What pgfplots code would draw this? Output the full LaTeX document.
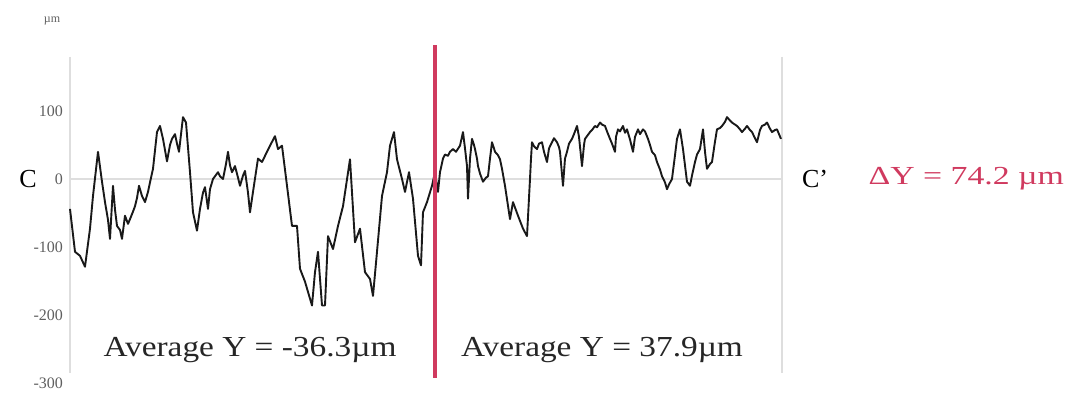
\documentclass[border=0pt]{standalone}
\usepackage{fontspec}
\setmainfont{Liberation Serif}
\usepackage{pgfplots}
\pgfplotsset{compat=1.18}

\definecolor{redline}{RGB}{208,58,95}
\definecolor{axisgray}{RGB}{222,222,222}
\definecolor{ticktext}{RGB}{95,95,95}

% profile C-C' (x in image columns, y in micrometres)
\pgfplotstableread{
x y
70 -44
75 -107
80 -113
85 -129
90 -73
93 -25
98 40
102 -4
105 -34
108 -60
110 -88
113 -10
115 -45
117 -69
120 -75
122 -88
125 -54
128 -66
130 -59
133 -48
135 -40
137 -28
139 -10
142 -25
145 -34
148 -19
150 -5
153 15
157 69
160 78
163 59
167 26
170 50
172 59
175 66
177 52
179 40
183 91
186 83
190 10
193 -49
197 -76
200 -44
203 -20
205 -12
208 -44
210 -15
213 0
216 6
218 10
220 4
223 0
226 22
228 40
230 20
232 10
235 19
238 2
240 -10
243 5
245 12
248 -20
250 -49
253 -19
258 30
262 25
265 34
270 49
275 63
278 44
282 49
287 -10
292 -69
297 -69
300 -132
305 -151
312 -186
315 -137
318 -107
322 -186
325 -186
328 -84
333 -103
338 -69
343 -40
350 29
355 -93
360 -73
365 -137
370 -147
373 -172
377 -107
382 -25
387 10
390 49
394 69
397 29
402 0
405 -19
409 10
413 -29
418 -113
421 -127
423 -49
427 -34
432 -10
435 10
438 -19
440 10
443 30
445 36
448 34
450 40
453 44
456 40
460 49
463 69
465 45
467 19
468 -29
470 30
472 59
474 50
475 44
477 30
478 19
480 8
483 -4
486 2
488 4
490 30
492 54
494 45
495 40
498 35
500 29
502 15
505 -10
510 -59
513 -34
518 -54
523 -73
527 -84
530 0
531 30
532 54
534 48
537 44
539 52
542 54
544 40
547 25
549 45
552 54
554 60
557 54
559 47
560 40
563 -10
565 30
567 40
569 52
572 59
574 66
577 78
579 62
582 19
584 50
585 59
587 63
590 69
592 72
595 78
597 76
600 83
602 80
605 78
607 70
610 59
612 52
615 40
616 62
618 73
620 70
623 78
625 68
627 73
630 58
633 40
635 62
638 73
640 66
643 73
645 70
648 59
650 50
652 40
655 35
657 25
660 14
662 4
665 -5
667 -15
669 -8
672 0
675 35
677 59
680 73
683 44
685 20
687 -4
690 -10
692 5
695 25
697 36
700 44
703 73
705 40
707 15
710 22
712 25
715 55
717 73
720 75
722 78
725 84
727 91
730 86
732 83
735 80
737 78
740 73
742 69
745 74
747 78
750 72
752 69
755 60
757 54
760 72
762 78
765 80
767 83
770 74
772 69
775 72
777 73
779 66
781 59
}\profile

\begin{document}
\begin{tikzpicture}
\useasboundingbox (0,0) rectangle (539pt,200.5pt);
\begin{axis}[
  at={(35pt,9pt)}, anchor=south west,
  scale only axis,
  width=356pt, height=170pt,
  xmin=70, xmax=782,
  ymin=-300, ymax=200,
  axis line style={draw=none},
  xtick=\empty,
  ytick={-300,-200,-100,0,100},
  major tick length=0pt,
  yticklabel style={font=\fontsize{8}{9}\selectfont, text=ticktext},
  /pgf/number format/assume math mode=true,
  clip=false,
]
\draw[axisgray, line width=1pt] (axis cs:70,180) -- (axis cs:70,-285);
\draw[axisgray, line width=1pt] (axis cs:782,180) -- (axis cs:782,-285);
\draw[axisgray, line width=1pt] (axis cs:70,0) -- (axis cs:782,0);

\addplot[black!90, line width=0.95pt, line join=round] table[x=x, y=y] {\profile};

\draw[redline, line width=1.6pt] (axis cs:435,197) -- (axis cs:435,-292);

\node[font=\fontsize{6}{7}\selectfont, text=ticktext] at (axis cs:52,233) {µm};
\node[font=\fontsize{13}{14}\selectfont] at (axis cs:28,0) {C};
\node[font=\fontsize{13}{14}\selectfont] at (axis cs:815,0) {C’};
\node[anchor=west, inner sep=0pt, xscale=1.3, font=\fontsize{13}{14}\selectfont, text=redline] at (axis cs:868,0) {ΔY = 74.2 µm};
\node[xscale=1.15, font=\fontsize{14.5}{15}\selectfont, text=black!85] at (axis cs:250,-251) {Average Y = -36.3µm};
\node[xscale=1.15, font=\fontsize{14.5}{15}\selectfont, text=black!85] at (axis cs:602,-251) {Average Y = 37.9µm};
\end{axis}
\end{tikzpicture}
\end{document}
